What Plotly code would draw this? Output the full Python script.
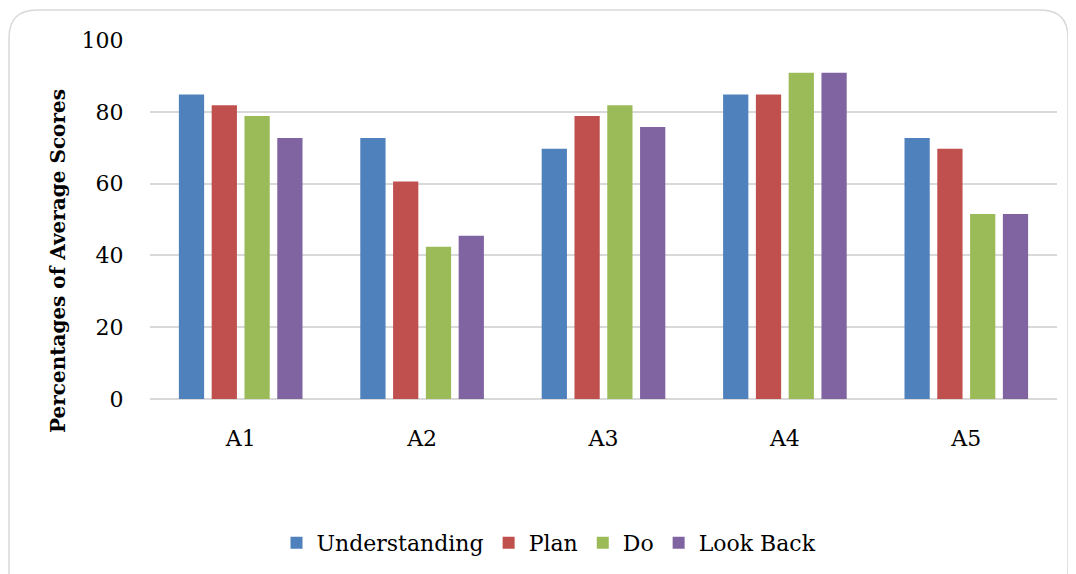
import plotly.graph_objects as go

categories = ["A1", "A2", "A3", "A4", "A5"]
understanding = [84.8, 72.7, 69.7, 84.8, 72.7]
plan = [81.8, 60.6, 78.8, 84.8, 69.7]
do = [78.8, 42.4, 81.8, 90.9, 51.5]
look_back = [72.7, 45.5, 75.8, 90.9, 51.5]

series_names = ["Understanding", "Plan", "Do", "Look Back"]
series_values = [understanding, plan, do, look_back]
colors = ["#4F81BD", "#C0504D", "#9BBB59", "#8064A2"]
y_title = "Percentages of Average Scores"

OFF = 8  # page body margin of the browser
W, H = 1076 - OFF, 574 - OFF
L, R, T, B = 150 - OFF, 1057 - OFF, 40 - OFF, 399 - OFF

FONT = "DejaVu Serif"

fig = go.Figure()
for name, vals, c in zip(series_names, series_values, colors):
    fig.add_trace(go.Bar(x=categories, y=vals, name=name,
                         marker=dict(color=c, line=dict(width=0))))


def px(x):
    return (x - OFF - L) / (R - L)


def py(y):
    return (B - (y - OFF)) / (B - T)


# rounded outer border (page pixel coordinates)
x0, x1, y0, y1, r = 9, 1068, 10, 600, 28
path = (f"M {px(x0 + r)},{py(y0)} L {px(x1 - r)},{py(y0)} "
        f"Q {px(x1)},{py(y0)} {px(x1)},{py(y0 + r)} "
        f"L {px(x1)},{py(y1 - r)} Q {px(x1)},{py(y1)} {px(x1 - r)},{py(y1)} "
        f"L {px(x0 + r)},{py(y1)} Q {px(x0)},{py(y1)} {px(x0)},{py(y1 - r)} "
        f"L {px(x0)},{py(y0 + r)} Q {px(x0)},{py(y0)} {px(x0 + r)},{py(y0)} Z")

fig.update_layout(
    width=W, height=H,
    margin=dict(l=L, r=W - R, t=T, b=H - B, autoexpand=False),
    paper_bgcolor="white", plot_bgcolor="white",
    barmode="group", bargap=0.277, bargroupgap=0.23,
    font=dict(family=FONT, color="#000000", size=22),
    xaxis=dict(showgrid=False, showline=False, zeroline=False,
               ticks="outside", ticklen=20, tickcolor="rgba(0,0,0,0)",
               tickfont=dict(size=22, family=FONT)),
    yaxis=dict(range=[0, 100], dtick=20, showgrid=True, gridcolor="#D9D9D9",
               gridwidth=1.5, zeroline=True, zerolinecolor="#D9D9D9", zerolinewidth=1.5,
               showline=False, ticks="outside", ticklen=21, tickcolor="rgba(0,0,0,0)",
               tickfont=dict(size=22, family=FONT)),
    legend=dict(orientation="h", x=px(549), xanchor="center", y=py(543), yanchor="middle",
                font=dict(size=22, family=FONT), traceorder="normal",
                itemwidth=30, bgcolor="rgba(0,0,0,0)"),
    shapes=[dict(type="path", path=path, xref="paper", yref="paper",
                 line=dict(color="#D9D9D9", width=1.5), layer="below")],
    annotations=[dict(text=f"<b>{y_title}</b>", textangle=-90, showarrow=False,
                      xref="paper", yref="paper", x=px(58), y=py(261),
                      xanchor="center", yanchor="middle",
                      font=dict(size=20, family=FONT, color="#000000"))],
)

fig.write_html("out.html")
